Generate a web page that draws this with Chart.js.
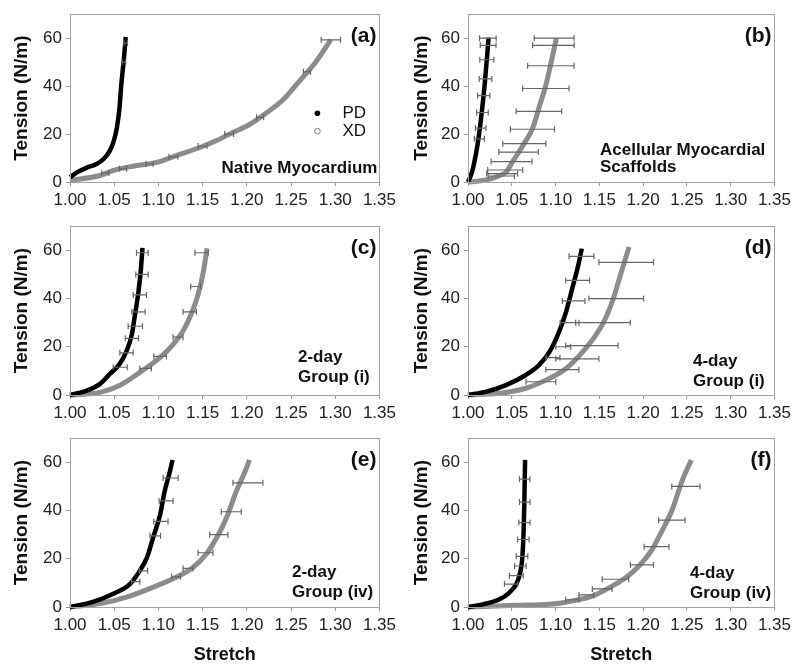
<!DOCTYPE html>
<html>
<head>
<meta charset="utf-8">
<script src="https://cdn.jsdelivr.net/npm/chart.js@4.4.0/dist/chart.umd.min.js"></script>
<style>
  body { margin: 0; background: #fff; }
  #wrap { position: relative; width: 795px; height: 666px; background: #fff; }
  canvas { position: absolute; }
</style>
</head>
<body>
<div id="wrap">
  <canvas id="pa"></canvas>
  <canvas id="pb"></canvas>
  <canvas id="pc"></canvas>
  <canvas id="pd"></canvas>
  <canvas id="pe"></canvas>
  <canvas id="pf"></canvas>
</div>
<script>
// axis ticks
const xTicks = [1.00, 1.05, 1.10, 1.15, 1.20, 1.25, 1.30, 1.35];
const yTicks = [0, 20, 40, 60];
const seriesNames = ["PD", "XD"];

// curves are [stretch, tension], error bars are [stretch, tension, half width]
// (a) native myocardium
const aPD = [[1.000,2.0],[1.008,4.0],[1.019,6.0],[1.030,7.5],[1.038,9.6],[1.045,13.0],[1.049,16.5],[1.053,22.6],[1.056,31.0],[1.058,40.5],[1.061,51.5],[1.063,60.5]];
const aXD = [[1.000,0.7],[1.034,2.7],[1.049,4.8],[1.071,6.6],[1.098,8.2],[1.120,11.0],[1.147,14.4],[1.165,17.2],[1.184,20.6],[1.203,24.0],[1.222,28.8],[1.241,34.3],[1.259,41.9],[1.278,50.1],[1.295,59.3]];
const aPDerr = [[1.063,58,0.002],[1.061,50,0.002]];
const aXDerr = [[1.295,59.3,0.011],[1.268,46,0.004],[1.215,27,0.004],[1.180,20,0.005],[1.150,15,0.005],[1.117,10.5,0.005],[1.090,7.5,0.004],[1.060,5.5,0.004],[1.040,3.8,0.004]];

// (b) acellular scaffolds
const bPD = [[1.000,0],[1.003,2.5],[1.006,6.2],[1.011,15.8],[1.015,26.8],[1.019,40.5],[1.0216,51.5],[1.0235,60.2]];
const bXD = [[1.000,0],[1.015,0.5],[1.028,1.5],[1.038,3.0],[1.0435,4.1],[1.051,8.5],[1.064,16],[1.074,22.6],[1.081,30.9],[1.089,40.5],[1.095,50],[1.101,60]];
const bPDerr = [[1.0227,60,0.0095],[1.023,57,0.009],[1.0215,51,0.008],[1.020,43,0.0072],[1.018,36,0.007],[1.0165,29,0.0066],[1.0145,22.5,0.006],[1.013,18,0.0057]];
const bXDerr = [[1.0984,60,0.0227],[1.0975,57,0.0237],[1.0946,48.5,0.0265],[1.0889,39,0.0265],[1.081,29.5,0.026],[1.0736,22,0.0252],[1.0643,16,0.0246],[1.0577,12.5,0.0225],[1.0497,8.5,0.0233],[1.0425,5,0.02],[1.039,3.5,0.0176],[1.038,2.5,0.015]];

// (c) 2-day group (i)
const cPD = [[1.000,0],[1.019,1.8],[1.034,4.6],[1.045,8.7],[1.056,12.8],[1.064,18.3],[1.070,25.2],[1.073,32.1],[1.077,41.7],[1.080,51.4],[1.082,61]];
const cXD = [[1.000,0],[1.034,1.1],[1.056,3.9],[1.079,9.4],[1.102,15.6],[1.117,21.1],[1.128,26.6],[1.137,33.5],[1.145,41.8],[1.151,51.4],[1.155,60.8]];
const cPDerr = [[1.0818,59,0.0066],[1.0814,50,0.007],[1.0790,41.5,0.0075],[1.0775,34.5,0.0075],[1.0739,28.5,0.0081],[1.0700,23.5,0.0075],[1.0639,17.5,0.0075],[1.0568,11.5,0.0079]];
const cXDerr = [[1.1488,59,0.0075],[1.1421,45,0.0056],[1.1354,34.5,0.0075],[1.1222,24,0.0056],[1.1019,16,0.0071],[1.0855,11,0.0066]];

// (d) 4-day group (i)
const dPD = [[1.000,0],[1.021,1.4],[1.0435,4.1],[1.066,8.3],[1.081,12.4],[1.093,17.9],[1.104,26.2],[1.112,34.5],[1.119,44.1],[1.125,52.4],[1.130,60.7]];
const dXD = [[1.000,0],[1.036,0.7],[1.066,2.8],[1.093,6.9],[1.112,11],[1.131,17.9],[1.146,24.8],[1.157,31.7],[1.166,40],[1.174,49.7],[1.184,61.4]];
const dPDerr = [[1.1296,57.5,0.0142],[1.1252,47.5,0.0136],[1.1207,39,0.0129],[1.1160,30,0.0108],[1.1088,20,0.0085],[1.097,15.5,0.008]];
const dXDerr = [[1.1807,55,0.0312],[1.1693,40,0.0312],[1.1542,30,0.0312],[1.1415,20.5,0.0299],[1.1249,15,0.0246],[1.1078,10.5,0.0189],[1.0832,5.5,0.017]];

// (e) 2-day group (iv)
const ePD = [[1.000,0],[1.026,2.1],[1.049,5.5],[1.068,9.6],[1.079,15.1],[1.087,20.5],[1.094,28.8],[1.102,38.4],[1.107,47.9],[1.113,56.2],[1.116,61]];
const eXD = [[1.000,0],[1.034,1.4],[1.064,4.1],[1.094,8.2],[1.120,12.3],[1.139,16.4],[1.154,21.9],[1.166,28.8],[1.177,37],[1.188,47.9],[1.198,56.2],[1.203,61]];
const ePDerr = [[1.1138,53.5,0.0085],[1.1087,44,0.0079],[1.1028,35.5,0.0081],[1.0964,29.5,0.006],[1.0831,15,0.0047],[1.0743,10.5,0.0047]];
const eXDerr = [[1.2012,51.5,0.0169],[1.1824,39.5,0.0113],[1.1683,30,0.0103],[1.1532,22.5,0.0085],[1.1335,16,0.0056],[1.12,12.5,0.005]];

// (f) 4-day group (iv)
const fPD = [[1.000,0],[1.017,1.1],[1.036,3.2],[1.047,5.9],[1.055,9.4],[1.059,13.5],[1.062,20.4],[1.0635,31.4],[1.0643,42.4],[1.0648,53.4],[1.0652,61]];
const fXD = [[1.000,0],[1.055,0.7],[1.093,1.1],[1.119,2.5],[1.142,4.5],[1.161,7.9],[1.180,12.1],[1.195,16.9],[1.210,23.7],[1.221,31.2],[1.233,40.1],[1.244,51.8],[1.255,61]];
const fPDerr = [[1.0648,53,0.006],[1.0648,43.5,0.006],[1.0644,35,0.0064],[1.0632,28,0.0066],[1.0617,21,0.0066],[1.0598,17,0.0066],[1.0552,13,0.0079],[1.0492,9.5,0.0076]];
const fXDerr = [[1.2488,50,0.0161],[1.2328,36,0.0151],[1.2153,25,0.0142],[1.1987,17.5,0.0132],[1.1684,11.5,0.0151],[1.1533,7.5,0.0113],[1.1353,5,0.0085],[1.1192,3,0.0076]];

const FONT = "Arial, 'Liberation Sans', sans-serif";

// layout of the six panels
const panels = [
  { id: "pa", left: 0,   top: 0,   w: 400, h: 212, padTop: 13, padRight: 20, yW: 70, xH: 30, xTitle: false,
    pd: aPD, xd: aXD, errs: [aPDerr, aXDerr], tag: "(a)", legend: true,
    note: ["Native Myocardium"], noteAlign: "right", noteX: -2, noteY: [-14] },
  { id: "pb", left: 400, top: 0,   w: 395, h: 212, padTop: 13, padRight: 18, yW: 68, xH: 30, xTitle: false,
    pd: bPD, xd: bXD, errs: [bPDerr, bXDerr], tag: "(b)",
    note: ["Acellular Myocardial", "Scaffolds"], noteAlign: "left", noteX: 132, noteY: [-32, -15] },
  { id: "pc", left: 0,   top: 212, w: 400, h: 212, padTop: 13, padRight: 20, yW: 70, xH: 29, xTitle: false,
    pd: cPD, xd: cXD, errs: [cPDerr, cXDerr], tag: "(c)",
    note: ["2-day", "Group (i)"], noteAlign: "left", noteX: 228, noteY: [-38, -18] },
  { id: "pd", left: 400, top: 212, w: 395, h: 212, padTop: 13, padRight: 18, yW: 68, xH: 29, xTitle: false,
    pd: dPD, xd: dXD, errs: [dPDerr, dXDerr], tag: "(d)",
    note: ["4-day", "Group (i)"], noteAlign: "left", noteX: 225, noteY: [-34, -14] },
  { id: "pe", left: 0,   top: 424, w: 400, h: 242, padTop: 11, padRight: 20, yW: 70, xH: 59, xTitle: true,
    pd: ePD, xd: eXD, errs: [ePDerr, eXDerr], tag: "(e)",
    note: ["2-day", "Group (iv)"], noteAlign: "left", noteX: 222, noteY: [-35, -15] },
  { id: "pf", left: 400, top: 424, w: 395, h: 242, padTop: 11, padRight: 18, yW: 68, xH: 59, xTitle: true,
    pd: fPD, xd: fXD, errs: [fPDerr, fXDerr], tag: "(f)",
    note: ["4-day", "Group (iv)"], noteAlign: "left", noteX: 222, noteY: [-34, -14] },
];

const toPts = arr => arr.map(([x, y]) => ({ x: x, y: y }));

// error bars, frame, panel tag, notes and legend
const panelDecor = {
  id: "panelDecor",
  afterDatasetsDraw(chart, args, opts) {
    const { ctx, chartArea: a, scales: { x, y } } = chart;
    ctx.save();
    ctx.strokeStyle = "#666";
    ctx.lineWidth = 1.2;
    opts.errs.forEach(list => list.forEach(([cx, cy, h]) => {
      const py = y.getPixelForValue(cy);
      const x0 = x.getPixelForValue(cx - h), x1 = x.getPixelForValue(cx + h);
      ctx.beginPath();
      ctx.moveTo(x0, py); ctx.lineTo(x1, py);
      ctx.moveTo(x0, py - 3); ctx.lineTo(x0, py + 3);
      ctx.moveTo(x1, py - 3); ctx.lineTo(x1, py + 3);
      ctx.stroke();
    }));
    ctx.strokeStyle = "#a3a3a3";
    ctx.lineWidth = 1;
    ctx.strokeRect(Math.round(a.left) + 0.5, Math.round(a.top) + 0.5, Math.round(a.width), Math.round(a.height));

    ctx.fillStyle = "#111";
    ctx.textBaseline = "middle";
    ctx.font = "bold 21px " + FONT;
    ctx.textAlign = "right";
    ctx.fillText(opts.tag, a.right - 3, a.top + 22);

    ctx.font = "bold 17px " + FONT;
    ctx.textAlign = opts.noteAlign;
    const nx = opts.noteAlign === "right" ? a.right + opts.noteX : a.left + opts.noteX;
    opts.note.forEach((t, i) => ctx.fillText(t, nx, a.bottom + opts.noteY[i]));

    if (opts.legend) {
      ctx.font = "17px " + FONT;
      ctx.textAlign = "left";
      seriesNames.forEach((name, i) => {
        const ly = a.top + 99 + i * 18;
        ctx.beginPath();
        ctx.arc(a.right - 62, ly, 2.8, 0, Math.PI * 2);
        if (i === 0) { ctx.fillStyle = "#000"; ctx.fill(); }
        else { ctx.fillStyle = "#fff"; ctx.fill(); ctx.strokeStyle = "#777"; ctx.lineWidth = 1; ctx.stroke(); }
        ctx.fillStyle = "#111";
        ctx.fillText(name, a.right - 37, ly);
      });
    }
    ctx.restore();
  }
};

function makeChart(p) {
  const cv = document.getElementById(p.id);
  cv.width = p.w;
  cv.height = p.h;
  cv.style.left = p.left + "px";
  cv.style.top = p.top + "px";
  const line = { pointRadius: 0, cubicInterpolationMode: "monotone", clip: 8 };
  return new Chart(cv, {
    type: "line",
    data: {
      datasets: [
        { ...line, label: seriesNames[0], data: toPts(p.pd), borderColor: "#000", borderWidth: 4.5 },
        { ...line, label: seriesNames[1], data: toPts(p.xd), borderColor: "#8c8c8c", borderWidth: 5 },
        { ...line, label: "", data: toPts(p.xd), borderColor: "#eeeeee", borderWidth: 2 },
      ],
    },
    options: {
      responsive: false,
      animation: false,
      events: [],
      layout: { padding: { top: p.padTop, right: p.padRight, left: 0, bottom: 0 }, autoPadding: false },
      plugins: {
        legend: { display: false },
        tooltip: { enabled: false },
        panelDecor: { errs: p.errs, tag: p.tag, note: p.note, noteAlign: p.noteAlign, noteX: p.noteX, noteY: p.noteY, legend: !!p.legend },
      },
      scales: {
        x: {
          type: "linear",
          min: 1,
          max: 1.35,
          afterBuildTicks: s => { s.ticks = xTicks.map(v => ({ value: v })); },
          afterFit: s => { s.height = p.xH; },
          ticks: { callback: v => v.toFixed(2), font: { family: FONT, size: 17 }, color: "#222", padding: 4, maxRotation: 0, autoSkip: false },
          grid: { drawOnChartArea: false, color: "#999", tickLength: 4 },
          border: { display: false },
          title: { display: p.xTitle, text: "Stretch", font: { family: FONT, size: 18, weight: "bold" }, color: "#111", padding: { top: 0, bottom: 0 } },
        },
        y: {
          min: 0,
          max: 70,
          afterBuildTicks: s => { s.ticks = yTicks.map(v => ({ value: v })); },
          afterFit: s => { s.width = p.yW; },
          ticks: { font: { family: FONT, size: 17 }, color: "#222", padding: 4 },
          grid: { drawOnChartArea: false, color: "#999", tickLength: 4 },
          border: { display: false },
          title: { display: true, text: "Tension (N/m)", font: { family: FONT, size: 19, weight: "bold" }, color: "#111", padding: { top: 10, bottom: 0 } },
        },
      },
    },
    plugins: [panelDecor],
  });
}

panels.forEach(makeChart);
</script>
</body>
</html>
